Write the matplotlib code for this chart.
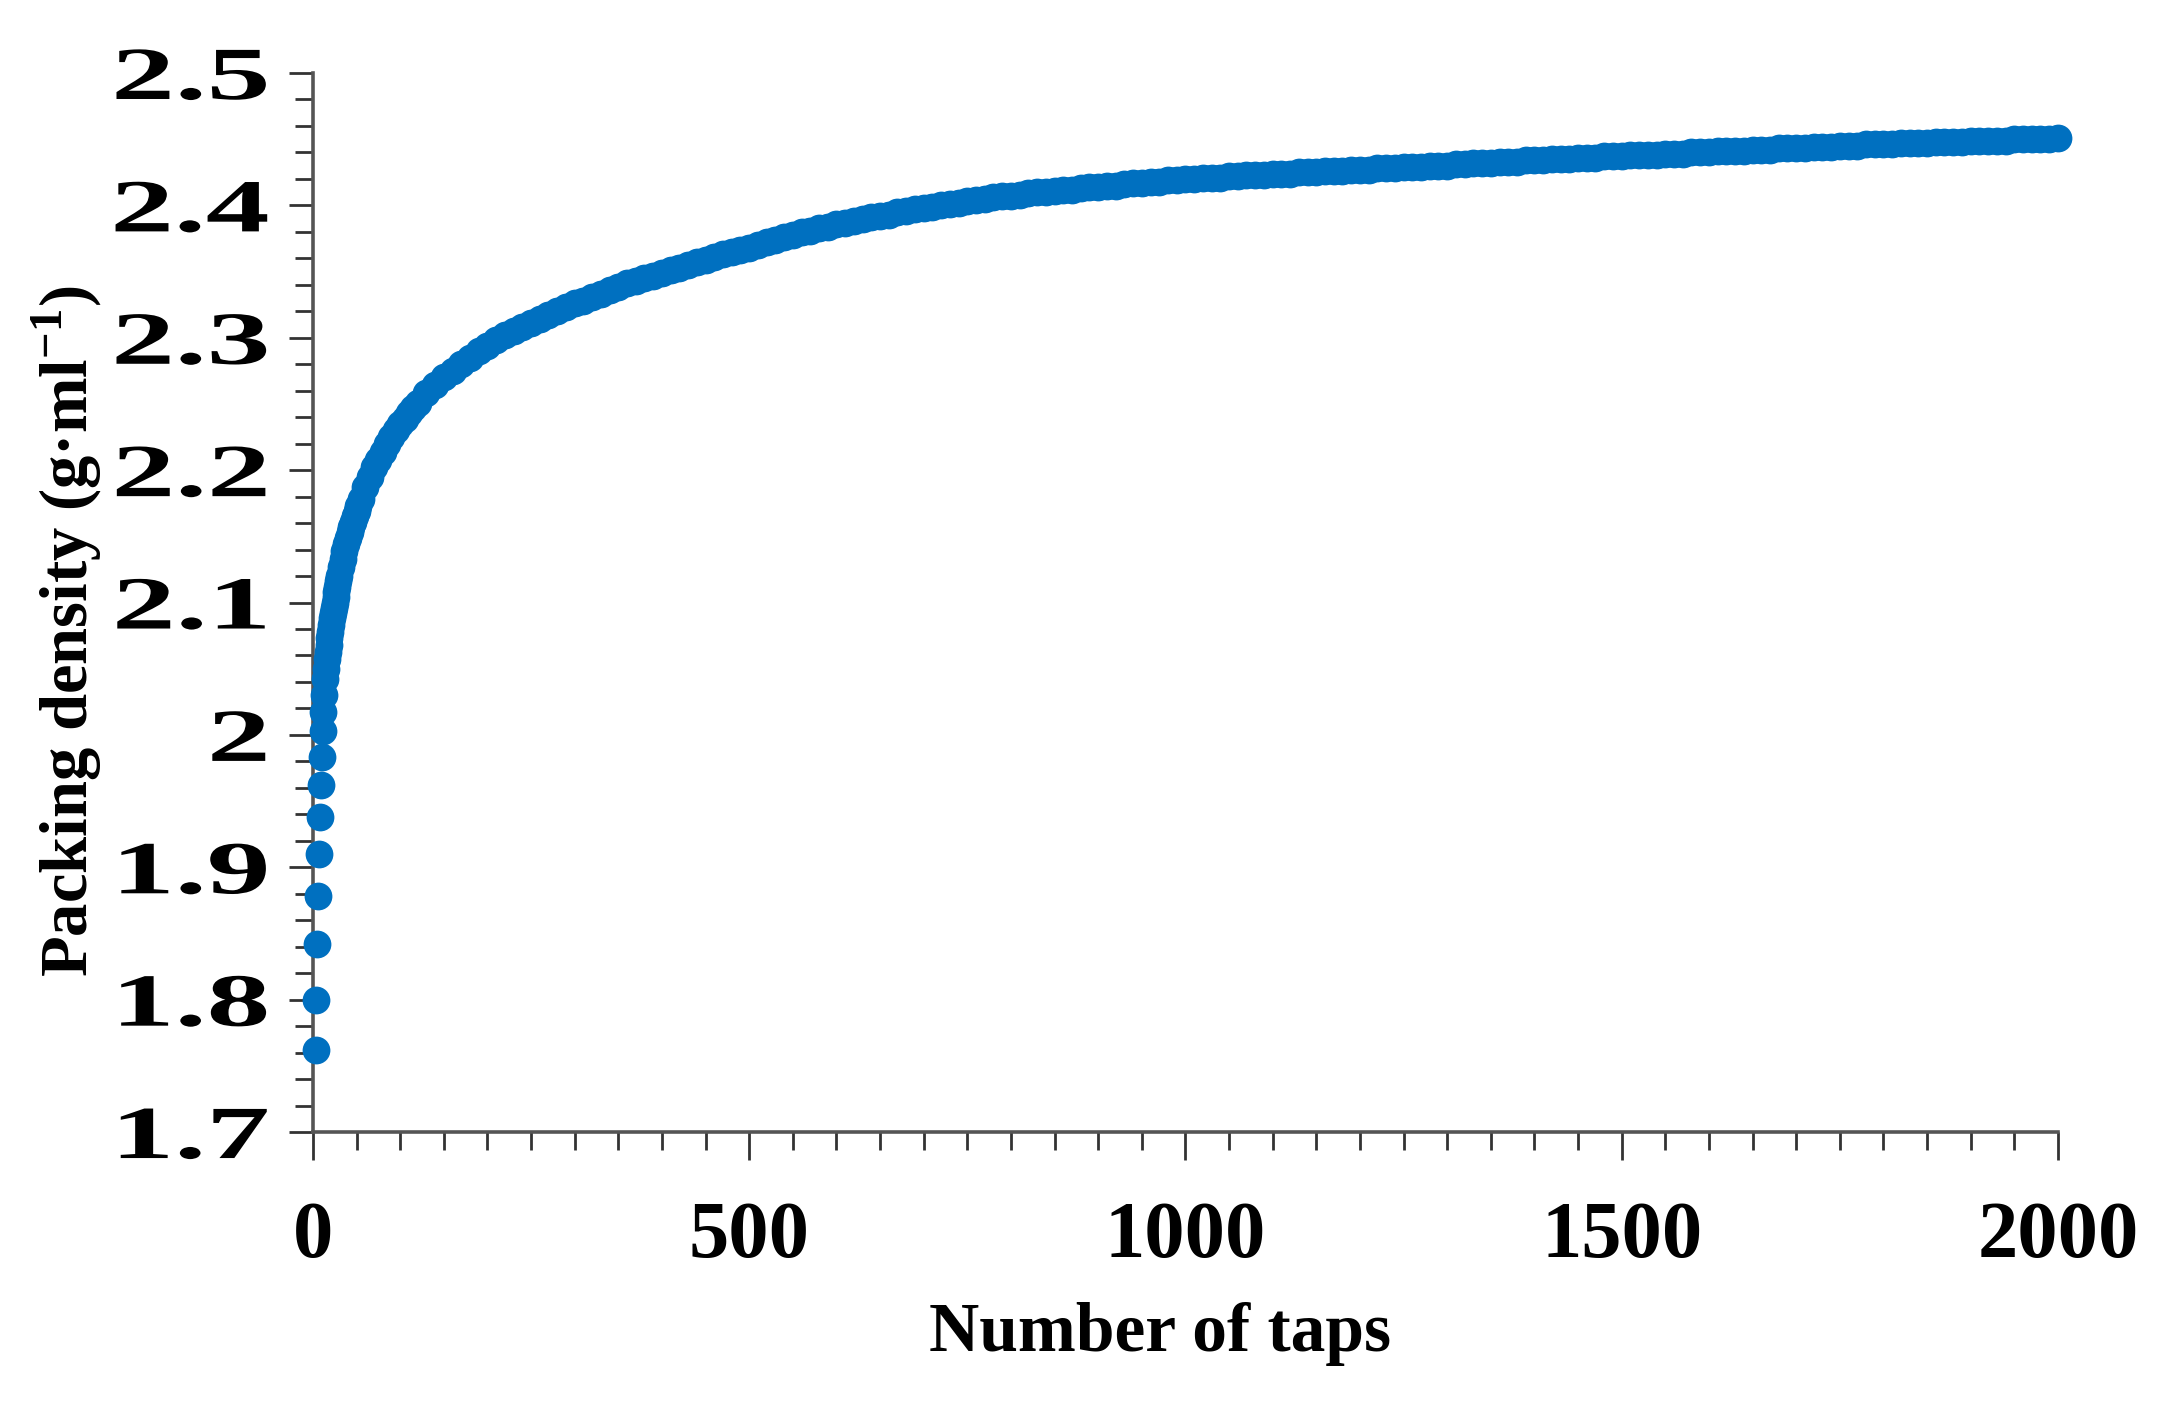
import matplotlib.pyplot as plt
from matplotlib.ticker import MultipleLocator
from matplotlib.patheffects import AbstractPathEffect
from matplotlib.transforms import Affine2D

# tap-density readings (g/ml)
taps_early = [3, 4, 5, 6, 7, 8, 9, 10, 11, 12, 13, 14,
              15, 16, 17, 18, 19, 20, 21, 22, 23, 24, 25, 26, 27, 28, 29, 30,
              32, 34, 36, 38, 40, 42, 44, 46, 48, 50, 52, 55,
              60, 65, 70, 75, 80, 85, 90, 95, 100, 105, 110, 115, 120,
              130, 140, 150, 160, 170, 180, 190, 200, 210]
density_early = [1.762, 1.800, 1.842, 1.878, 1.910, 1.938, 1.962, 1.983, 2.003, 2.017, 2.030, 2.042,
                 2.050, 2.057, 2.063, 2.068, 2.073, 2.078, 2.083, 2.088, 2.092, 2.096, 2.100, 2.104,
                 2.108, 2.112, 2.116, 2.120,
                 2.127, 2.133, 2.139, 2.144, 2.149, 2.153, 2.157, 2.161, 2.165, 2.169, 2.173, 2.178,
                 2.187, 2.195, 2.202, 2.208, 2.214, 2.220, 2.225, 2.230, 2.235, 2.239, 2.243, 2.247, 2.251,
                 2.258, 2.264, 2.270, 2.275, 2.280, 2.285, 2.290, 2.294, 2.298]

taps_late = list(range(220, 2001, 10))
density_late = [2.302, 2.305, 2.308, 2.311, 2.314, 2.317, 2.320, 2.323, 2.326,
                2.328, 2.331, 2.333, 2.336, 2.338, 2.341, 2.343, 2.345, 2.347, 2.349,
                2.351, 2.353, 2.355, 2.357, 2.359, 2.361, 2.363, 2.365, 2.366, 2.368,
                2.370, 2.372, 2.374, 2.376, 2.378, 2.380, 2.381, 2.383, 2.384, 2.386,
                2.387, 2.388, 2.390, 2.391, 2.392, 2.393, 2.395, 2.396, 2.397, 2.398,
                2.399, 2.400, 2.401, 2.402, 2.403, 2.404, 2.405, 2.406, 2.407, 2.407,
                2.408, 2.409, 2.410, 2.410, 2.411, 2.412, 2.412, 2.413, 2.414, 2.414,
                2.415, 2.415, 2.416, 2.417, 2.417, 2.418, 2.418, 2.419, 2.419, 2.420,
                2.420, 2.421, 2.421, 2.421, 2.422, 2.422, 2.423, 2.423, 2.423, 2.424,
                2.424, 2.424, 2.425, 2.425, 2.425, 2.426, 2.426, 2.426, 2.427, 2.427,
                2.427, 2.428, 2.428, 2.428, 2.429, 2.429, 2.429, 2.430, 2.430, 2.430,
                2.431, 2.431, 2.432, 2.432, 2.432, 2.433, 2.433, 2.433, 2.434, 2.434,
                2.434, 2.435, 2.435, 2.435, 2.436, 2.436, 2.436, 2.437, 2.437, 2.437,
                2.438, 2.438, 2.438, 2.438, 2.439, 2.439, 2.439, 2.440, 2.440, 2.440,
                2.441, 2.441, 2.441, 2.441, 2.442, 2.442, 2.442, 2.443, 2.443, 2.443,
                2.443, 2.444, 2.444, 2.444, 2.445, 2.445, 2.445, 2.446, 2.446, 2.446,
                2.446, 2.447, 2.447, 2.447, 2.447, 2.448, 2.448, 2.448, 2.448, 2.449,
                2.449, 2.449, 2.449, 2.449, 2.450, 2.450, 2.450, 2.450, 2.450, 2.451]

taps = taps_early + taps_late
density = density_early + density_late


# the y tick labels in the original are drawn horizontally stretched;
# widen the glyphs about their right edge so right alignment still holds
class WideText(AbstractPathEffect):
    def __init__(self, sx):
        super().__init__()
        self.sx = sx

    def draw_path(self, renderer, gc, tpath, affine, rgbFace=None):
        x1 = tpath.get_extents().x1
        stretch = Affine2D().translate(-x1, 0).scale(self.sx, 1).translate(x1, 0)
        renderer.draw_path(gc, tpath, stretch + affine, rgbFace)


serif = 'Liberation Serif'
plt.rcParams['mathtext.fontset'] = 'custom'
plt.rcParams['mathtext.rm'] = 'Liberation Serif:bold'
plt.rcParams['mathtext.bf'] = 'Liberation Serif:bold'

fig = plt.figure(figsize=(21.61, 14.04), dpi=100)
ax = fig.add_axes([0.1448, 0.1937, 0.8075, 0.7543])

ax.plot(taps, density, 'o', color='#0070C0', ms=20, mew=0, clip_on=False, zorder=5)

ax.set_xlim(0, 2000)
ax.set_ylim(1.7, 2.5)
ax.xaxis.set_major_locator(MultipleLocator(500))
ax.xaxis.set_minor_locator(MultipleLocator(50))
ax.yaxis.set_minor_locator(MultipleLocator(0.02))
ax.set_yticks([1.7, 1.8, 1.9, 2.0, 2.1, 2.2, 2.3, 2.4, 2.5])
ax.set_yticklabels(['1.7', '1.8', '1.9', '2', '2.1', '2.2', '2.3', '2.4', '2.5'])

for side in ['top', 'right']:
    ax.spines[side].set_visible(False)
for side in ['left', 'bottom']:
    ax.spines[side].set_color('#555555')
    ax.spines[side].set_linewidth(2.6)

ax.tick_params(axis='y', which='major', length=17, width=2, color='#333333', pad=15)
ax.tick_params(axis='y', which='minor', length=13, width=2, color='#333333')
ax.tick_params(axis='x', which='major', length=20, width=2, color='#333333', pad=30)
ax.tick_params(axis='x', which='minor', length=13, width=2, color='#333333')

for lab in ax.get_xticklabels():
    lab.set_fontfamily(serif)
    lab.set_fontweight('bold')
    lab.set_fontsize(58)
for lab in ax.get_yticklabels():
    lab.set_fontfamily(serif)
    lab.set_fontweight('bold')
    lab.set_fontsize(54)
    lab.set_path_effects([WideText(1.7)])

fig.text(0.537, 0.050, 'Number of taps', family=serif, weight='bold',
         fontsize=50, ha='center', va='center')
fig.text(0.0310, 0.5506, r'Packing density (g·ml$^{-1}$)', family=serif, weight='bold',
         fontsize=48, ha='center', va='center', rotation=90)

plt.savefig('out.png', dpi=100)
plt.close('all')
